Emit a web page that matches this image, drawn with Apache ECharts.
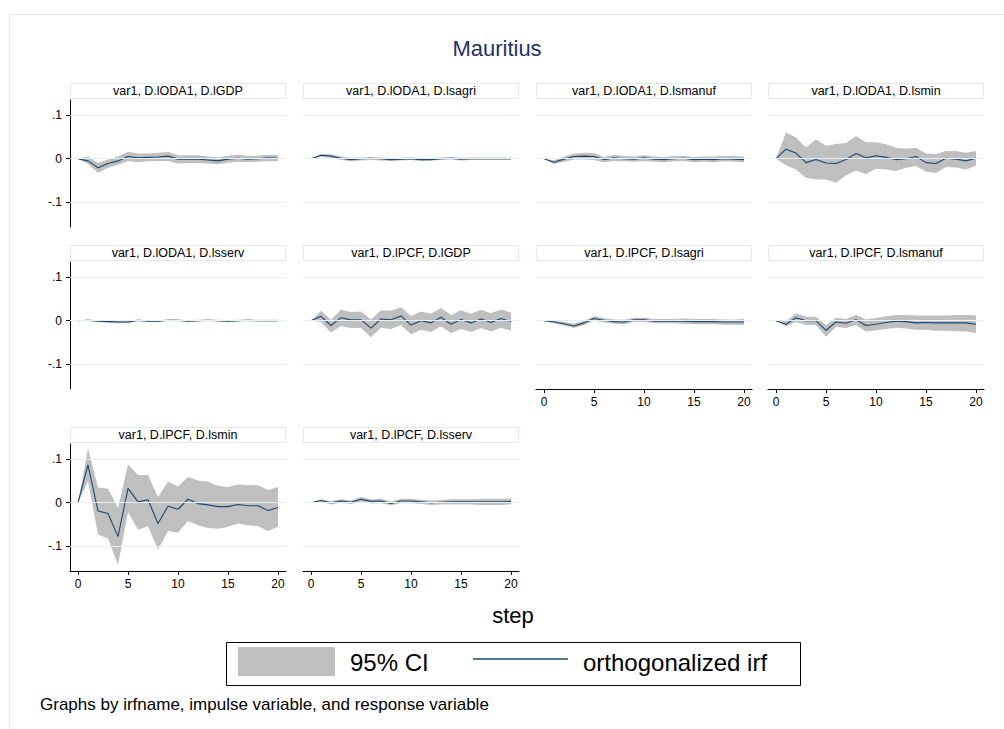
<!DOCTYPE html>
<html>
<head>
<meta charset="utf-8">
<script src="https://cdn.jsdelivr.net/npm/echarts@6/dist/echarts.min.js"></script>
<style>
  html, body { margin: 0; padding: 0; background: #fff; }
  #chart { width: 1004px; height: 729px; }
</style>
</head>
<body>
<div id="chart"></div>
<script>
// steps of the impulse response
var steps = [0, 1, 2, 3, 4, 5, 6, 7, 8, 9, 10, 11, 12, 13, 14, 15, 16, 17, 18, 19, 20];

var panelTitles = [
  'var1, D.lODA1, D.lGDP', 'var1, D.lODA1, D.lsagri', 'var1, D.lODA1, D.lsmanuf', 'var1, D.lODA1, D.lsmin',
  'var1, D.lODA1, D.lsserv', 'var1, D.lPCF, D.lGDP', 'var1, D.lPCF, D.lsagri', 'var1, D.lPCF, D.lsmanuf',
  'var1, D.lPCF, D.lsmin', 'var1, D.lPCF, D.lsserv'
];

var yTicks = [-0.1, 0, 0.1];
var xTicks = [0, 5, 10, 15, 20];

// lODA1 -> lGDP
var irf1 = [0, -0.005, -0.021, -0.011, -0.005, 0.005, 0.002, 0.003, 0.004, 0.006, -0.001, -0.001, -0.001, -0.003, -0.005, -0.001, 0.001, -0.001, 0, 0.002, 0.001];
var lo1  = [0, -0.012, -0.032, -0.021, -0.014, -0.005, -0.008, -0.006, -0.005, -0.005, -0.011, -0.010, -0.010, -0.011, -0.013, -0.009, -0.007, -0.008, -0.007, -0.005, -0.006];
var hi1  = [0, 0.005, -0.010, -0.002, 0.005, 0.016, 0.012, 0.012, 0.013, 0.016, 0.008, 0.008, 0.008, 0.005, 0.003, 0.007, 0.009, 0.006, 0.007, 0.009, 0.008];
// lODA1 -> lsagri
var irf2 = [0, 0.008, 0.006, 0.001, -0.002, 0, 0.001, 0, -0.002, -0.001, 0, -0.002, -0.002, 0, 0.001, -0.001, 0, 0, 0, 0, 0];
var lo2  = [0, 0.004, 0.002, -0.003, -0.006, -0.004, -0.003, -0.004, -0.005, -0.004, -0.003, -0.005, -0.004, -0.003, -0.002, -0.004, -0.003, -0.003, -0.003, -0.003, -0.003];
var hi2  = [0, 0.011, 0.010, 0.005, 0.002, 0.003, 0.004, 0.003, 0.001, 0.002, 0.003, 0.001, 0.001, 0.003, 0.004, 0.002, 0.003, 0.003, 0.003, 0.003, 0.003];
// lODA1 -> lsmanuf
var irf3 = [0, -0.008, -0.001, 0.005, 0.006, 0.005, -0.002, 0.002, 0, -0.001, 0.002, -0.001, -0.002, 0, 0.001, -0.002, -0.001, -0.002, 0, -0.001, -0.002];
var lo3  = [0, -0.012, -0.007, -0.002, -0.002, -0.003, -0.008, -0.005, -0.006, -0.007, -0.005, -0.007, -0.008, -0.006, -0.005, -0.008, -0.007, -0.008, -0.006, -0.007, -0.008];
var hi3  = [0, -0.004, 0.005, 0.012, 0.014, 0.013, 0.004, 0.009, 0.006, 0.005, 0.008, 0.005, 0.004, 0.006, 0.007, 0.004, 0.005, 0.005, 0.006, 0.006, 0.005];
// lODA1 -> lsmin
var irf4 = [0, 0.022, 0.013, -0.009, -0.002, -0.010, -0.011, -0.002, 0.012, 0.002, 0.007, 0.003, -0.002, 0, 0.005, -0.009, -0.011, 0.001, -0.001, -0.005, 0.001];
var lo4  = [0, -0.015, -0.025, -0.044, -0.048, -0.048, -0.055, -0.038, -0.027, -0.035, -0.023, -0.025, -0.028, -0.021, -0.017, -0.030, -0.033, -0.019, -0.020, -0.025, -0.016];
var hi4  = [0, 0.060, 0.049, 0.026, 0.044, 0.030, 0.034, 0.036, 0.052, 0.038, 0.038, 0.033, 0.025, 0.023, 0.025, 0.012, 0.011, 0.018, 0.018, 0.014, 0.018];
// lODA1 -> lsserv
var irf5 = [0, 0.001, -0.001, -0.002, -0.003, -0.003, 0.001, -0.001, -0.001, 0.001, 0.001, -0.001, 0, 0.001, 0, -0.001, 0, 0.001, 0, 0, 0];
var lo5  = [0, -0.001, -0.003, -0.004, -0.006, -0.006, -0.002, -0.003, -0.003, -0.001, -0.001, -0.003, -0.002, -0.001, -0.002, -0.003, -0.002, -0.001, -0.002, -0.002, -0.002];
var hi5  = [0, 0.003, 0.001, 0.000, -0.001, 0.000, 0.003, 0.001, 0.001, 0.003, 0.003, 0.001, 0.002, 0.003, 0.002, 0.001, 0.002, 0.003, 0.002, 0.002, 0.002];
// lPCF -> lGDP
var irf6 = [0, 0.010, -0.011, 0.007, 0.002, 0.002, -0.017, 0.004, 0.002, 0.011, -0.010, 0, -0.005, 0.008, -0.008, 0.003, -0.005, 0.004, -0.004, 0.005, -0.002];
var lo6  = [0, -0.003, -0.027, -0.012, -0.017, -0.017, -0.038, -0.016, -0.019, -0.010, -0.031, -0.021, -0.026, -0.013, -0.029, -0.019, -0.026, -0.017, -0.025, -0.016, -0.023];
var hi6  = [0, 0.023, 0.002, 0.025, 0.020, 0.021, 0.003, 0.024, 0.023, 0.031, 0.011, 0.021, 0.016, 0.029, 0.013, 0.024, 0.016, 0.025, 0.017, 0.026, 0.019];
// lPCF -> lsagri
var irf7 = [0, -0.003, -0.007, -0.012, -0.005, 0.005, 0.001, -0.002, -0.003, 0.002, 0.002, -0.001, -0.001, -0.001, -0.001, -0.002, -0.002, -0.002, -0.003, -0.003, -0.003];
var lo7  = [0, -0.006, -0.011, -0.017, -0.010, 0, -0.004, -0.007, -0.008, -0.003, -0.003, -0.006, -0.006, -0.006, -0.007, -0.008, -0.008, -0.008, -0.009, -0.009, -0.010];
var hi7  = [0, 0.000, -0.003, -0.007, 0.000, 0.010, 0.006, 0.003, 0.002, 0.007, 0.007, 0.004, 0.004, 0.004, 0.005, 0.004, 0.004, 0.004, 0.003, 0.003, 0.004];
// lPCF -> lsmanuf
var irf8 = [0, -0.008, 0.007, 0, 0, -0.022, -0.003, -0.006, 0.002, -0.011, -0.008, -0.004, -0.001, -0.002, -0.005, -0.004, -0.005, -0.005, -0.005, -0.005, -0.008];
var lo8  = [0, -0.013, -0.003, -0.010, -0.010, -0.037, -0.014, -0.017, -0.010, -0.025, -0.022, -0.019, -0.016, -0.018, -0.021, -0.021, -0.023, -0.023, -0.024, -0.025, -0.028];
var hi8  = [0, -0.002, 0.017, 0.009, 0.009, -0.010, 0.007, 0.004, 0.014, 0.003, 0.006, 0.010, 0.013, 0.013, 0.012, 0.012, 0.012, 0.012, 0.013, 0.013, 0.012];
// lPCF -> lsmin
var irf9 = [0, 0.087, -0.019, -0.025, -0.078, 0.033, 0.002, 0.007, -0.048, -0.008, -0.015, 0.008, -0.002, -0.005, -0.009, -0.009, -0.004, -0.007, -0.007, -0.018, -0.011];
var lo9  = [0, 0.050, -0.073, -0.082, -0.143, -0.022, -0.062, -0.054, -0.108, -0.065, -0.069, -0.042, -0.052, -0.058, -0.060, -0.055, -0.048, -0.052, -0.054, -0.065, -0.055];
var hi9  = [0, 0.125, 0.035, 0.032, -0.012, 0.088, 0.064, 0.064, 0.013, 0.049, 0.037, 0.059, 0.051, 0.048, 0.039, 0.036, 0.042, 0.040, 0.040, 0.029, 0.036];
// lPCF -> lsserv
var irf10 = [0, 0.005, 0, 0.004, 0.001, 0.008, 0.003, 0.004, -0.002, 0.004, 0.004, 0.002, 0, 0.001, 0.002, 0.002, 0.002, 0.002, 0.002, 0.002, 0.003];
var lo10  = [0, 0.002, -0.004, 0, -0.003, 0.003, -0.002, -0.001, -0.006, -0.001, -0.001, -0.003, -0.005, -0.004, -0.004, -0.004, -0.004, -0.005, -0.005, -0.005, -0.004];
var hi10  = [0, 0.008, 0.004, 0.008, 0.005, 0.013, 0.008, 0.009, 0.003, 0.009, 0.009, 0.007, 0.005, 0.006, 0.008, 0.008, 0.008, 0.009, 0.009, 0.009, 0.010];

var irfs = [irf1, irf2, irf3, irf4, irf5, irf6, irf7, irf8, irf9, irf10];
var lows = [lo1, lo2, lo3, lo4, lo5, lo6, lo7, lo8, lo9, lo10];
var highs = [hi1, hi2, hi3, hi4, hi5, hi6, hi7, hi8, hi9, hi10];

var chart = echarts.init(document.getElementById('chart'), null, { renderer: 'svg' });

var FONT = 'Liberation Sans, Arial, Helvetica, sans-serif';
var colLeft = [70, 303, 536, 768];
var rowTop = [100, 262, 444];
var PW = 216, PH = 127;
var showX = [6, 7, 8, 9];     // panels carrying the step axis
var showY = [0, 4, 8];        // panels carrying the value axis

var grids = [], xAxes = [], yAxes = [], series = [], graphics = [];

// CI band as one polygon: lower bound left to right, upper bound back
function bandRenderer(params, api) {
  if (params.dataIndex !== 0) return;
  var n = params.dataInsideLength || steps.length;
  var top = [], bottom = [];
  for (var k = 0; k < steps.length; k++) {
    var s = api.value(0, k);
    bottom.push(api.coord([s, api.value(1, k)]));
    top.unshift(api.coord([s, api.value(2, k)]));
  }
  return {
    type: 'polygon',
    shape: { points: bottom.concat(top) },
    style: { fill: '#bfbfbf', stroke: null }
  };
}

panelTitles.forEach(function (t, i) {
  var left = colLeft[i % 4], top = rowTop[Math.floor(i / 4)];
  grids.push({ left: left, top: top, width: PW, height: PH });

  var hasX = showX.indexOf(i) >= 0, hasY = showY.indexOf(i) >= 0;
  xAxes.push({
    type: 'value', gridIndex: i, min: -0.8, max: 20.8,
    axisLine: { show: hasX, onZero: false, lineStyle: { color: '#000', width: 1 } },
    axisTick: { show: hasX, customValues: xTicks, length: 4, lineStyle: { color: '#000' } },
    axisLabel: { show: hasX, customValues: xTicks, fontSize: 12, color: '#000', margin: 7, fontFamily: FONT },
    splitLine: { show: false }
  });
  yAxes.push({
    type: 'value', gridIndex: i, min: -0.157, max: 0.135,
    axisLine: { show: hasY, onZero: false, lineStyle: { color: '#000', width: 1 } },
    axisTick: { show: hasY, customValues: yTicks, length: 4, lineStyle: { color: '#000' } },
    axisLabel: {
      show: hasY, customValues: yTicks, fontSize: 12, color: '#000', margin: 8, fontFamily: FONT,
      formatter: function (v) { return v === 0 ? '0' : String(v).replace('0.', '.'); }
    },
    splitLine: { show: false }
  });

  // grid lines at the y ticks
  series.push({
    type: 'line', xAxisIndex: i, yAxisIndex: i, data: [], silent: true, z: 1,
    markLine: {
      silent: true, symbol: 'none', label: { show: false }, animation: false,
      lineStyle: { color: '#e9f0f1', width: 1, type: 'solid' },
      data: yTicks.map(function (v) { return { yAxis: v }; })
    }
  });
  // 95% CI band
  series.push({
    name: '95% CI', type: 'custom', xAxisIndex: i, yAxisIndex: i, z: 2, silent: true,
    renderItem: bandRenderer,
    encode: { x: 0, y: [1, 2] },
    data: steps.map(function (s, k) { return [s, lows[i][k], highs[i][k]]; })
  });
  series.push({
    name: 'orthogonalized irf', type: 'line', xAxisIndex: i, yAxisIndex: i,
    data: steps.map(function (s, k) { return [s, irfs[i][k]]; }),
    showSymbol: false, silent: true, z: 3,
    lineStyle: { color: '#1a476f', width: 1.1 }
  });

  // panel subtitle box
  graphics.push({
    type: 'rect', shape: { x: left + 0.5, y: top - 16.5, width: PW - 1, height: 15 },
    style: { fill: '#fff', stroke: '#e3eaec', lineWidth: 1 }, silent: true
  });
  graphics.push({
    type: 'text', x: left + PW / 2, y: top - 9,
    style: { text: t, fill: '#000', font: '12.5px ' + FONT, textAlign: 'center', textVerticalAlign: 'middle' },
    silent: true
  });
});

// outer frame, titles, legend and note
graphics.unshift({
  type: 'rect', shape: { x: 9.5, y: 14.5, width: 1100, height: 800 },
  style: { fill: 'none', stroke: '#e6eced', lineWidth: 1 }, silent: true, z: -1
});
graphics.push(
  { type: 'text', x: 497, y: 48, style: { text: 'Mauritius', fill: '#1f3361', font: '22px ' + FONT, textAlign: 'center', textVerticalAlign: 'middle' } },
  { type: 'text', x: 513, y: 615, style: { text: 'step', fill: '#000', font: '22px ' + FONT, textAlign: 'center', textVerticalAlign: 'middle' } },
  { type: 'rect', shape: { x: 226.5, y: 642.5, width: 574, height: 43 }, style: { fill: '#fff', stroke: '#000', lineWidth: 1 } },
  { type: 'rect', shape: { x: 238, y: 647, width: 97, height: 29 }, style: { fill: '#bfbfbf' } },
  { type: 'text', x: 350, y: 662, style: { text: '95% CI', fill: '#000', font: '24px ' + FONT, textVerticalAlign: 'middle' } },
  { type: 'line', shape: { x1: 473, y1: 659, x2: 568, y2: 659 }, style: { stroke: '#1a476f', lineWidth: 1.5 } },
  { type: 'text', x: 583, y: 662, style: { text: 'orthogonalized irf', fill: '#000', font: '24px ' + FONT, textVerticalAlign: 'middle' } },
  { type: 'text', x: 40, y: 704, style: { text: 'Graphs by irfname, impulse variable, and response variable', fill: '#000', font: '17px ' + FONT, textVerticalAlign: 'middle' } }
);

chart.setOption({
  backgroundColor: '#fff',
  animation: false,
  grid: grids,
  xAxis: xAxes,
  yAxis: yAxes,
  series: series,
  graphic: graphics
});
</script>
</body>
</html>
